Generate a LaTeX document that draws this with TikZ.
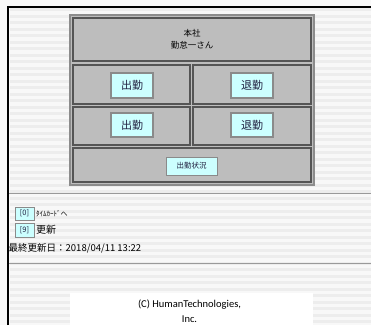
\documentclass[tikz,border=0pt]{standalone}
\usepackage{fontspec}
\setmainfont{Carlito}
\newfontfamily\jp{Noto Sans CJK JP}
\definecolor{stripe}{HTML}{EDEDED}
\definecolor{pagebg}{HTML}{F8F8F8}
\definecolor{tablebg}{HTML}{BDBDBD}
\definecolor{tableedge}{HTML}{8C8C8C}
\definecolor{celledge}{HTML}{555555}
\definecolor{btncyan}{HTML}{CCFFFF}
\definecolor{btnedge}{HTML}{8A8A8A}
\definecolor{rulegray}{HTML}{9A9A9A}
\definecolor{btntext}{HTML}{202040}
\begin{document}
\begin{tikzpicture}[x=1pt,y=-1pt,
  cell/.style={draw=celledge,line width=1.2pt,fill=tablebg,inner sep=0pt,anchor=center},
  btn/.style={draw=btnedge,line width=1.1pt,fill=btncyan,inner sep=0pt,anchor=center,text=btntext,font=\jp\fontsize{11}{12}\selectfont},
  smallbtn/.style={draw=btnedge,line width=0.9pt,fill=btncyan,inner sep=0pt,anchor=center,text=btntext,font=\jp\fontsize{7.5}{8}\selectfont},
  txt/.style={inner sep=0pt,anchor=west}]
\useasboundingbox (0,0) rectangle (371,325);
% page background with stripes
\fill[pagebg] (0,0) rectangle (371,325);
\foreach \y in {8,14.5,...,325} {\fill[stripe] (10,\y) rectangle (371,\y+3);}
% footer white area
\fill[white] (70,293) rectangle (313,325);
% page frame
\draw[black,line width=2pt] (8,325) -- (8,7) -- (371,7);
% main table
\node[draw=tableedge,line width=1.5pt,fill=tablebg,minimum width=244pt,minimum height=170pt,inner sep=0pt] (tbl) at (192,100) {};
\node[cell,minimum width=238pt,minimum height=43pt,align=center,font=\jp\fontsize{8.5}{12}\selectfont] (head) at (192,39.5) {本社\\勤怠一さん};
\node[cell,minimum width=117pt,minimum height=39pt] (c11) at (131.5,84.5) {};
\node[cell,minimum width=118pt,minimum height=39pt] (c12) at (252,84.5) {};
\node[cell,minimum width=117pt,minimum height=38pt] (c21) at (131.5,126) {};
\node[cell,minimum width=118pt,minimum height=38pt] (c22) at (252,126) {};
\node[cell,minimum width=238pt,minimum height=34pt] (c3) at (192,165) {};
% buttons
\node[btn,minimum width=42pt,minimum height=25pt] (b1) at (132,85.5) {出勤};
\node[btn,minimum width=42pt,minimum height=25pt] (b2) at (252,85.5) {退勤};
\node[btn,minimum width=42pt,minimum height=24pt] (b3) at (132,125) {出勤};
\node[btn,minimum width=42pt,minimum height=24pt] (b4) at (252,125) {退勤};
\node[smallbtn,minimum width=51pt,minimum height=18pt] (b5) at (191.5,166) {出勤状況};
% rules
\coordinate (r1a) at (9,193); \coordinate (r1b) at (371,193);
\coordinate (r2a) at (9,263); \coordinate (r2b) at (371,263);
\draw[rulegray,line width=1pt] (r1a) -- (r1b);
\draw[rulegray,line width=1pt] (r2a) -- (r2b);
% links
\node[smallbtn,minimum width=19pt,minimum height=13pt] (k0) at (24.5,213.5) {[0]};
\node[txt,font=\jp\fontsize{7}{8}\selectfont] (t0) at (36,213.5) {ﾀｲﾑｶｰﾄﾞへ};
\node[smallbtn,minimum width=19pt,minimum height=14pt] (k9) at (24.5,230) {[9]};
\node[txt,font=\jp\fontsize{10}{11}\selectfont] (t9) at (36,230) {更新};
\node[txt,font=\jp\fontsize{9.5}{11}\selectfont] (upd) at (8.5,248) {最終更新日：2018/04/11 13:22};
% footer
\node[inner sep=0pt,font=\fontsize{10.5}{12}\selectfont] (foot1) at (189.5,304.5) {(C) HumanTechnologies,};
\node[inner sep=0pt,font=\fontsize{10.5}{12}\selectfont] (foot2) at (189.5,319.5) {Inc.};
\end{tikzpicture}
\end{document}
